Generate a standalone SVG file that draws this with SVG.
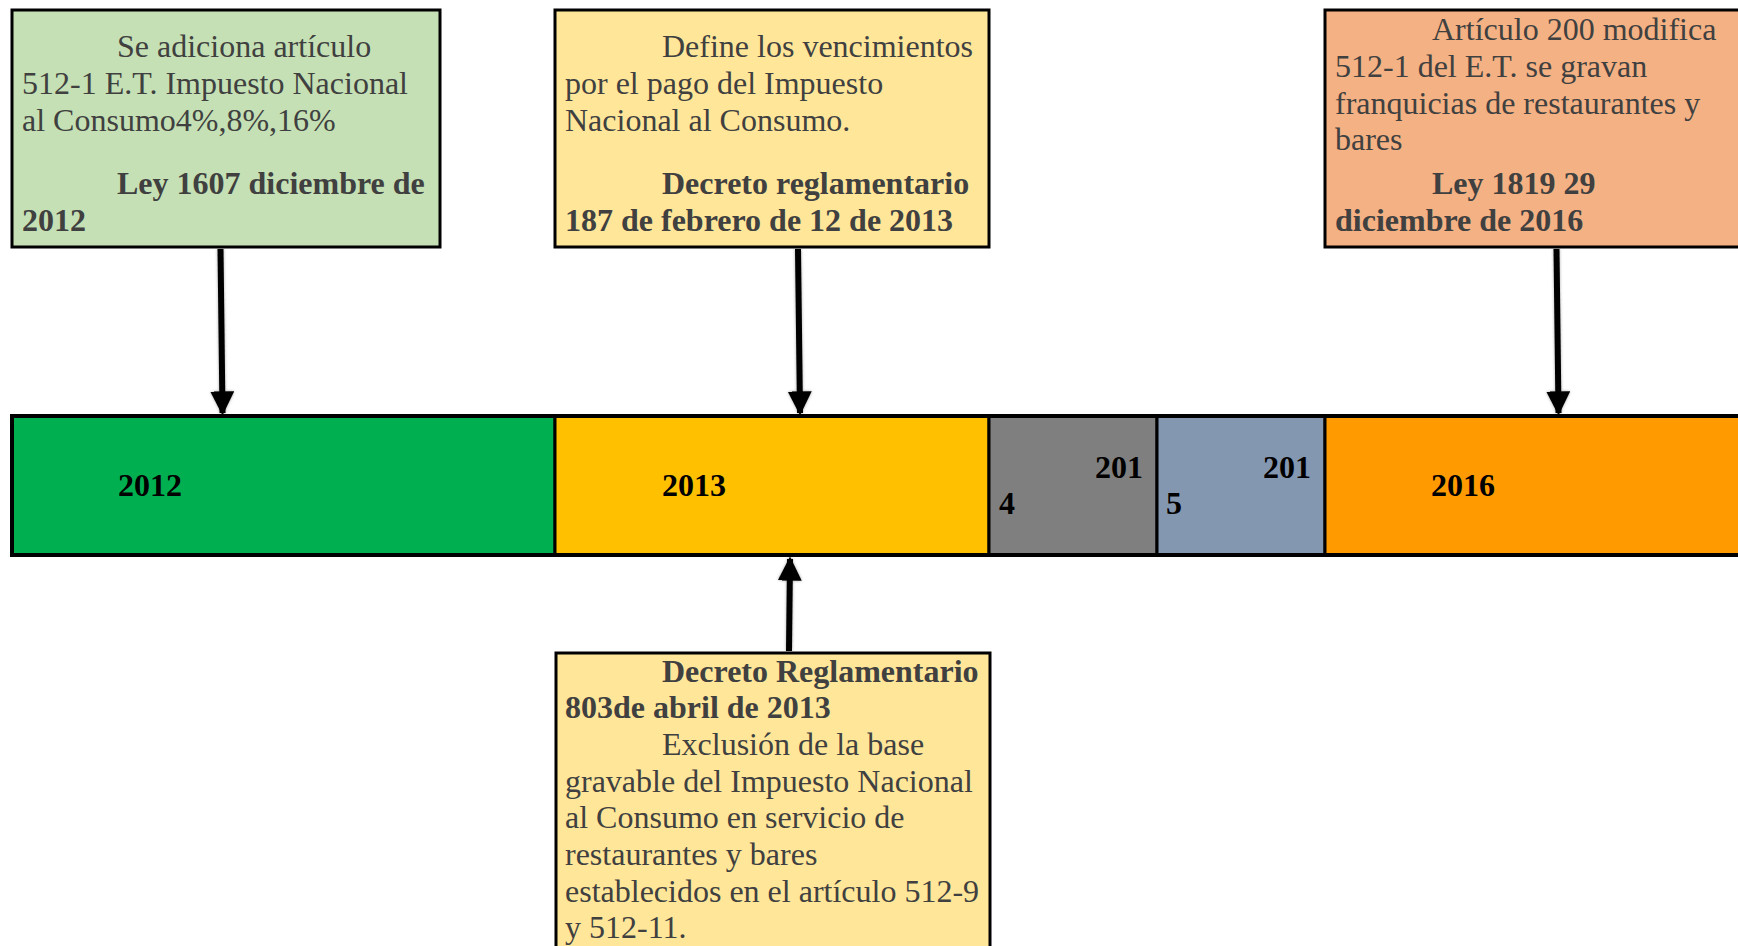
<svg xmlns="http://www.w3.org/2000/svg" width="1738" height="946" viewBox="0 0 1738 946">
<style>
.t{font-family:"Liberation Serif","Times New Roman",serif;font-size:32px;fill:#404040}
.b{font-weight:bold}
.y{font-family:"Liberation Serif","Times New Roman",serif;font-size:32px;font-weight:bold;fill:#000}
.box{stroke:#000;stroke-width:3}
.seg{stroke:#000;stroke-width:3}
.arr{stroke:#000;stroke-width:6;fill:none;marker-end:url(#ah)}
</style>
<defs>
<marker id="ah" viewBox="0 0 10 10" refX="9" refY="5" markerWidth="4" markerHeight="4" markerUnits="strokeWidth" orient="auto">
<path d="M0,0 L10,5 L0,10 z" fill="#000"/>
</marker>
<filter id="sh" x="-50%" y="-10%" width="200%" height="120%">
<feDropShadow dx="0" dy="0" stdDeviation="1.5" flood-color="#000" flood-opacity="0.35"/>
</filter>
</defs>
<rect width="1738" height="946" fill="#fff"/>

<g id="timeline">
<rect id="y2012" class="seg" x="12" y="416" width="543" height="139" fill="#00B050"/>
<rect id="y2013" class="seg" x="555" y="416" width="434" height="139" fill="#FFC000"/>
<rect id="y2014" class="seg" x="989" y="416" width="168" height="139" fill="#7F7F7F"/>
<rect id="y2015" class="seg" x="1157" y="416" width="168" height="139" fill="#8497B0"/>
<rect id="y2016" class="seg" x="1325" y="416" width="420" height="139" fill="#FF9A00"/>
<rect x="12" y="416" width="1733" height="139" fill="none" stroke="#000" stroke-width="4"/>
<text class="y" x="118" y="496">2012</text>
<text class="y" x="662" y="496">2013</text>
<text class="y" x="1095" y="478">201</text>
<text class="y" x="999" y="514">4</text>
<text class="y" x="1263" y="478">201</text>
<text class="y" x="1166" y="514">5</text>
<text class="y" x="1431" y="496">2016</text>
</g>

<g id="node1">
<rect class="box" x="12" y="10" width="428" height="237" fill="#C5E0B4"/>
<text class="t" x="117" y="57">Se adiciona artículo</text>
<text class="t" x="22" y="94">512-1 E.T. Impuesto Nacional</text>
<text class="t" x="22" y="130.5">al Consumo4%,8%,16%</text>
<text class="t b" x="117" y="194">Ley 1607 diciembre de</text>
<text class="t b" x="22" y="231">2012</text>
</g>

<g id="node2">
<rect class="box" x="555" y="10" width="434" height="237" fill="#FFE699"/>
<text class="t" x="662" y="57">Define los vencimientos</text>
<text class="t" x="565" y="94">por el pago del Impuesto</text>
<text class="t" x="565" y="130.5">Nacional al Consumo.</text>
<text class="t b" x="662" y="194">Decreto reglamentario</text>
<text class="t b" x="565" y="231">187 de febrero de 12 de 2013</text>
</g>

<g id="node3">
<rect class="box" x="1325" y="10" width="420" height="237" fill="#F4B183"/>
<text class="t" x="1432" y="40">Artículo 200 modifica</text>
<text class="t" x="1335" y="77">512-1 del E.T. se gravan</text>
<text class="t" x="1335" y="113.5">franquicias de restaurantes y</text>
<text class="t" x="1335" y="150">bares</text>
<text class="t b" x="1432" y="194">Ley 1819 29</text>
<text class="t b" x="1335" y="231">diciembre de 2016</text>
</g>

<g id="node4">
<rect class="box" x="556" y="653" width="434" height="300" fill="#FFE699"/>
<text class="t b" x="662" y="681.5">Decreto Reglamentario</text>
<text class="t b" x="565" y="718">803de abril de 2013</text>
<text class="t" x="662" y="755">Exclusión de la base</text>
<text class="t" x="565" y="791.5">gravable del Impuesto Nacional</text>
<text class="t" x="565" y="828">al Consumo en servicio de</text>
<text class="t" x="565" y="865">restaurantes y bares</text>
<text class="t" x="565" y="901.5">establecidos en el artículo 512-9</text>
<text class="t" x="565" y="938">y 512-11.</text>
</g>

<g id="connectors" filter="url(#sh)">
<line class="arr" x1="220.5" y1="249" x2="222.5" y2="413"/>
<line class="arr" x1="798" y1="249" x2="800" y2="413"/>
<line class="arr" x1="1556.5" y1="249" x2="1558.5" y2="413"/>
<line class="arr" x1="789" y1="651" x2="790" y2="559"/>
</g>
</svg>
